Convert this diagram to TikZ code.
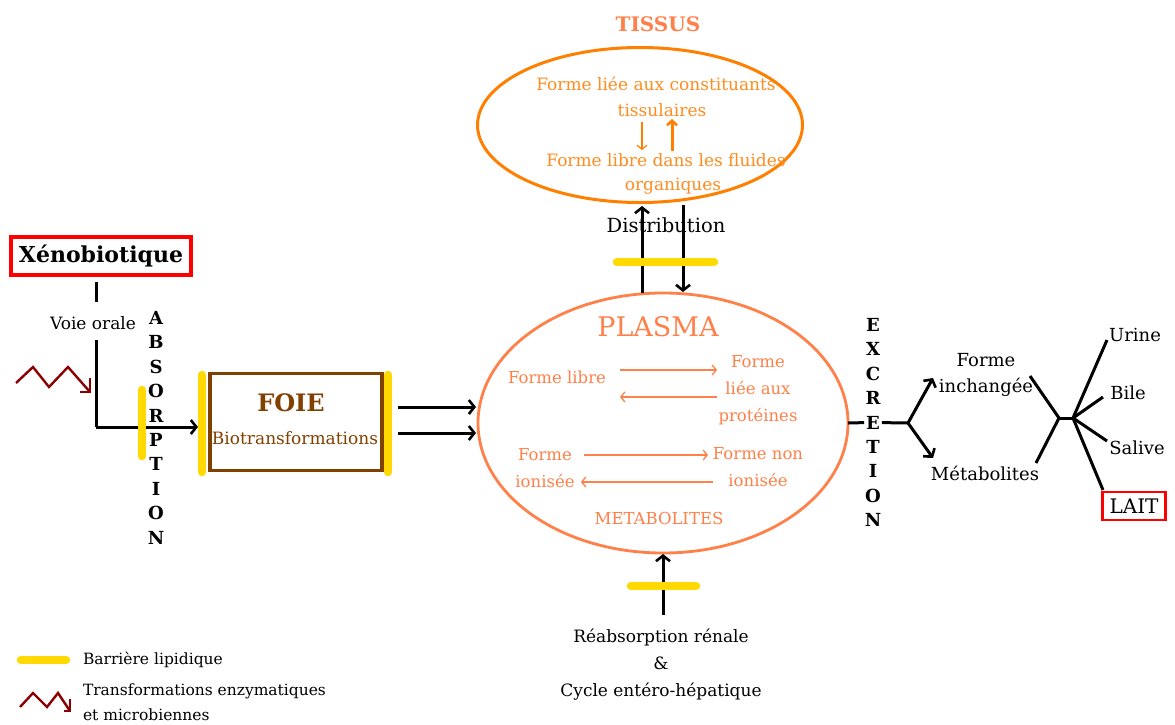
\documentclass[tikz,border=0pt]{standalone}
\usepackage{fontspec}
\setmainfont{DejaVu Serif}
\usetikzlibrary{arrows.meta,shapes.geometric}

\definecolor{plasmacol}{RGB}{255,128,72}
\definecolor{tissucol}{RGB}{255,128,0}
\definecolor{tissutext}{RGB}{255,140,30}
\definecolor{livercol}{RGB}{128,64,0}
\definecolor{enzcol}{RGB}{140,0,0}
\definecolor{lipid}{RGB}{255,217,0}

\newcommand{\setfs}[2]{\fontsize{#1}{#2}\selectfont}

\begin{document}
\begin{tikzpicture}[x=1pt,y=-1pt,
  every node/.style={inner sep=0pt,outer sep=0pt},
  txt/.style={font=\setfs{17}{27}, align=center},
  otxt/.style={txt, text=plasmacol, font=\setfs{16.5}{27}},
  ttxt/.style={txt, text=tissutext},
  rtxt/.style={txt, font=\setfs{18}{26}},
  vletter/.style={font=\bfseries\setfs{18}{20}, outer sep=2pt},
  lipidbar/.style={lipid, line width=8.5pt, line cap=round},
  flow/.style={line width=3pt, -{Straight Barb[length=5.5pt,width=14pt,line width=2.6pt]}},
  stem/.style={line width=3pt},
  oflow/.style={plasmacol, line width=1.4pt, -{Straight Barb[length=4pt,width=10pt,line width=1.3pt]}},
  enzpath/.style={enzcol, line width=2.4pt},
  redbox/.style={draw=red, line width=4pt},
]
\path[use as bounding box, fill=white] (0,0) rectangle (1175,724);

% ---------- entry: xenobiotic, oral route ----------
\node[redbox, minimum width=180pt, minimum height=38pt] (xeno) at (101,256) {};
\node[font=\bfseries\setfs{22}{26}] (xenotxt) at (101,256) {Xénobiotique};
\coordinate (xenoS) at (96,282);
\coordinate (voieN) at (96,302);
\draw[stem] (xenoS) -- (voieN);
\node[txt] (voie) at (93,323) {Voie orale};
\coordinate (voieS) at (96,340);
\coordinate (corner) at (96,427);
\coordinate (foieIn) at (198,427);
\draw[stem] (voieS) -- (corner);
\draw[flow] (corner) -- (foieIn);

% enzymatic / microbial transformation symbol
\draw[enzpath, line join=miter] (16,383) -- (33,367) -- (49,387) -- (68,367) -- (90,392);
\draw[enzpath] (80,392) -- (90,392) -- (90,378);

% ABSORPTION written vertically
\foreach \l [count=\i from 0] in {A,B,S,O,R,P,T,I,O,N}
  \node[vletter] (abs\i) at (156,318+\i*24.4) {\l};
\draw[lipidbar] (142,390) -- (142,456);

% ---------- liver ----------
\node[draw=livercol, line width=3.2pt, minimum width=172pt, minimum height=97pt] (foie) at (296,422) {};
\node[text=livercol, font=\bfseries\setfs{24}{28}] (foietitle) at (291,403) {FOIE};
\node[text=livercol, font=\setfs{17}{20}] (biotr) at (295,438) {Biotransformations};
\draw[lipidbar] (202,375) -- (202,472);
\draw[lipidbar] (388,375) -- (388,472);

% ---------- plasma ----------
\node[draw=plasmacol, line width=2.8pt, ellipse, minimum width=370pt, minimum height=260pt] (plasma) at (663,423) {};
\coordinate (foieOut1) at (398,407);
\coordinate (foieOut2) at (398,433);
\coordinate (plIn1) at (476,407);
\coordinate (plIn2) at (476,433);
\draw[flow] (foieOut1) -- (plIn1);
\draw[flow] (foieOut2) -- (plIn2);

\node[text=plasmacol, font=\setfs{27}{30}] (plasmatitle) at (658,327) {PLASMA};
\node[otxt] (libre) at (557,377) {Forme libre};
\node[otxt] (liee) at (758,390) {Forme\\liée aux\\protéines};
\coordinate (a1s) at (620,370); \coordinate (a1e) at (717,370);
\coordinate (a2s) at (717,397); \coordinate (a2e) at (620,397);
\draw[oflow] (a1s) -- (a1e);
\draw[oflow] (a2s) -- (a2e);
\node[otxt] (ionis) at (545,468) {Forme\\ionisée};
\node[otxt] (nonion) at (758,467) {Forme non\\ionisée};
\coordinate (a3s) at (584,455); \coordinate (a3e) at (708,455);
\coordinate (a4s) at (713,482); \coordinate (a4e) at (581,482);
\draw[oflow] (a3s) -- (a3e);
\draw[oflow] (a4s) -- (a4e);
\node[otxt] (metab) at (659,518) {METABOLITES};

% ---------- tissues ----------
\node[text=plasmacol, font=\bfseries\setfs{20}{22}] (tissustitle) at (658,24) {TISSUS};
\node[draw=tissucol, line width=3pt, ellipse, minimum width=325pt, minimum height=155pt] (tissus) at (640,125) {};
\node[ttxt] (tlie) at (656,84) {Forme liée aux constituants};
\node[ttxt] (tlie2) at (662,110) {tissulaires};
\node[ttxt] (tlibre) at (666,160) {Forme libre dans les fluides};
\node[ttxt] (tlibre2) at (673,186) {organiques};
\coordinate (t1s) at (642,122); \coordinate (t1e) at (642,150);
\coordinate (t2s) at (672,151); \coordinate (t2e) at (672,119);
\draw[tissucol, line width=1.3pt, -{Straight Barb[length=4pt,width=10pt,line width=1.2pt]}] (t1s) -- (t1e);
\draw[tissucol, line width=3pt, -{Straight Barb[length=4.5pt,width=10pt,line width=2.6pt]}] (t2s) -- (t2e);

% distribution between plasma and tissues
\coordinate (dUpS) at (642,293); \coordinate (dUpE) at (642,206);
\coordinate (dDnS) at (683,205); \coordinate (dDnE) at (683,292);
\draw[flow] (dUpS) -- (dUpE);
\draw[flow] (dDnS) -- (dDnE);
\node[font=\setfs{19.5}{22}] (distr) at (666,225) {Distribution};
\draw[lipidbar] (617,262) -- (714,262);

% ---------- reabsorption ----------
\coordinate (reabS) at (663,615); \coordinate (reabE) at (663,554);
\draw[flow] (reabS) -- (reabE);
\draw[lipidbar] (631,586) -- (696,586);
\node[txt] (reab) at (661,665) {Réabsorption rénale\\\&\\Cycle entéro-hépatique};

% ---------- excretion ----------
\foreach \l [count=\i from 0] in {E,X,C,R,E,T,I,O,N}
  \node[vletter] (exc\i) at (873,325+\i*24.4) {\l};
\coordinate (plOut) at (848,423);
\coordinate (split) at (908,423);
\draw[stem] (plOut) -- (exc4.west);
\draw[stem] (exc4.east) -- (split);
\coordinate (toInch) at (933,378);
\coordinate (toMet) at (933,458);
\draw[flow] (split) -- (toInch);
\draw[flow] (split) -- (toMet);
\node[rtxt] (inch) at (986,375) {Forme\\inchangée};
\node[rtxt] (metR) at (985,473) {Métabolites};

\coordinate (inchE) at (1030,376);
\coordinate (metE) at (1036,463);
\coordinate (joinA) at (1059,418);
\coordinate (joinB) at (1073,418);
\draw[stem] (inchE) -- (joinA);
\draw[stem] (metE) -- (joinA);
\draw[stem] (joinA) -- (joinB);
\coordinate (urineW) at (1107,340);
\coordinate (bileW) at (1103,397);
\coordinate (saliveW) at (1107,441);
\coordinate (laitW) at (1103,490);
\draw[stem] (joinB) -- (urineW);
\draw[stem] (joinB) -- (bileW);
\draw[stem] (joinB) -- (saliveW);
\draw[stem] (joinB) -- (laitW);
\node[rtxt] (urine) at (1135,335) {Urine};
\node[rtxt] (bile) at (1128,393) {Bile};
\node[rtxt] (salive) at (1137,448) {Salive};
\node[draw=red, line width=2.6pt, minimum width=63pt, minimum height=28pt] (laitbox) at (1134,506) {};
\node[font=\setfs{20}{24}] (lait) at (1134,506) {LAIT};

% ---------- legend ----------
\draw[lipidbar] (21,660) -- (66,660);
\node[anchor=west, font=\setfs{15.5}{24}] (legbar) at (83,660) {Barrière lipidique};
\draw[enzpath] (20,707) -- (33,693) -- (47,707) -- (58,693) -- (70,711);
\draw[enzpath] (64,711) -- (70,711) -- (70,699);
\node[anchor=north west, align=left, font=\setfs{15.5}{25}] (legenz) at (83,684) {Transformations enzymatiques\\et microbiennes};
\end{tikzpicture}
\end{document}
